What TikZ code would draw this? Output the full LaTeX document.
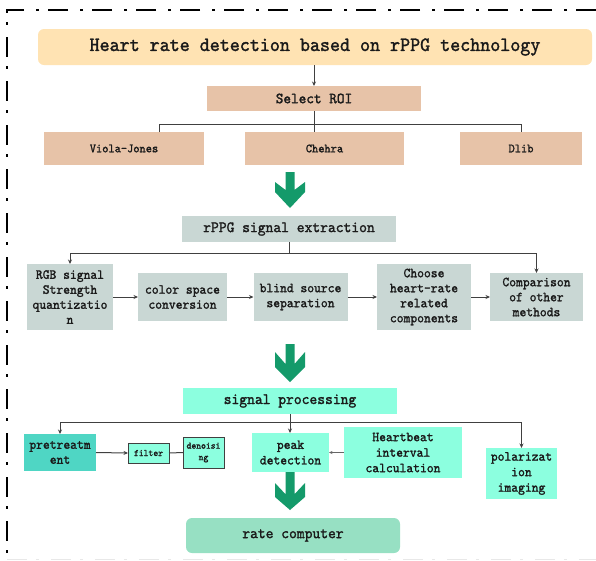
\documentclass[tikz,border=0pt]{standalone}
\usepackage{fontspec}
\newfontfamily\monof{lmmono10-regular.otf}[FakeBold=1.5,FakeStretch=0.94]
\usetikzlibrary{arrows.meta,calc}
\definecolor{titlefill}{HTML}{FFE3B3}
\definecolor{roifill}{HTML}{E7C3A8}
\definecolor{grayfill}{HTML}{C9D7D4}
\definecolor{aquafill}{HTML}{8CFFDF}
\definecolor{tealfill}{HTML}{4FD6C4}
\definecolor{ratefill}{HTML}{97E0C3}
\definecolor{arrowgreen}{HTML}{149A6A}
\definecolor{linec}{HTML}{404040}
\definecolor{textc}{HTML}{1A1A1A}
\newcommand\fsz[2]{\monof\fontsize{#1}{#2}\selectfont}
\newcommand\greenarrow[5]{%
  \fill[arrowgreen] (#1-4.5,#2) -- (#1+4.5,#2) -- (#1+4.5,{#3+0.8*(#4-#3)}) -- (#1+15,#3) -- (#1+15,#4) -- (#1,#5) -- (#1-15,#4) -- (#1-15,#3) -- (#1-4.5,{#3+0.8*(#4-#3)}) -- cycle;}
\begin{document}
\begin{tikzpicture}[x=1pt,y=-1pt,
  box/.style={inner sep=0pt, outer sep=0pt, align=center, text=textc},
  ln/.style={draw=linec, line width=1pt},
  arr/.style={ln, -{Stealth[length=4.5pt,width=4pt]}},
  thinarr/.style={draw=linec!80, line width=0.5pt, -{Stealth[length=3.5pt,width=3pt]}},
  border/.style={line width=1.2pt, dash pattern=on 20pt off 9pt on 3pt off 12pt},
]
\useasboundingbox (0,0) rectangle (596,560);
% frame
\draw[border] (596,10) -- (7,10) -- (7,560);
\draw[border, draw=gray!18, line width=0.8pt] (7,559) -- (596,559);

% level 1
\node[box, fill=titlefill, rounded corners=6pt, minimum width=554pt, minimum height=36pt, font={\fsz{20.3}{22}}] (title) at (315,47) {Heart rate detection based on rPPG technology};
\node[box, fill=roifill, minimum width=214pt, minimum height=25pt, font={\fsz{15.5}{18}}] (roi) at (314,98.5) {Select ROI};
\node[box, fill=roifill, minimum width=160pt, minimum height=33pt, font={\fsz{12.6}{15}}] (viola) at (124,148.5) {Viola-Jones};
\node[box, fill=roifill, minimum width=159pt, minimum height=33pt, font={\fsz{12.6}{15}}] (chehra) at (324.5,148.5) {Chehra};
\node[box, fill=roifill, minimum width=122pt, minimum height=33pt, font={\fsz{12.6}{15}}] (dlib) at (521,148.5) {Dlib};

\draw[arr] (roi.north |- title.south) -- (roi.north);
\draw[ln] (roi.south) -- (chehra.north -| roi.south);
\coordinate (b1) at (314,124);
\coordinate (b1l) at (159,124);
\draw[ln] (viola.north -| b1l) -- (b1l) -- (dlib.north |- b1) -- (dlib.north);

\greenarrow{290}{172}{182}{192}{208}

% level 2
\node[box, fill=grayfill, minimum width=214pt, minimum height=26pt, font={\fsz{15.8}{18}}] (rppg) at (289,229) {rPPG signal extraction};
\node[box, fill=grayfill, minimum width=86pt, minimum height=66pt, font={\fsz{13.8}{15}}] (rgb) at (70,297) {RGB signal\\Strength\\quantizatio\\n};
\node[box, fill=grayfill, minimum width=89pt, minimum height=48pt, font={\fsz{13.8}{15}}] (cs) at (182.5,297) {color space\\conversion};
\node[box, fill=grayfill, minimum width=94pt, minimum height=48pt, font={\fsz{13.8}{15}}] (bss) at (300.5,297) {blind source\\separation};
\node[box, fill=grayfill, minimum width=94pt, minimum height=66pt, font={\fsz{13.8}{15}}] (choose) at (424,297) {Choose\\heart-rate\\related\\components};
\node[box, fill=grayfill, minimum width=93pt, minimum height=48pt, font={\fsz{13.8}{15}}] (comp) at (536.5,297) {Comparison\\of other\\methods};

\draw[ln] (rppg.south) -- ++(0,11) coordinate (b2);
\draw[arr] (b2) -| (rgb.north);
\draw[arr] (b2) -| (comp.north);
\draw[arr] (rgb.east) -- (cs.west);
\draw[arr] (cs.east) -- (bss.west);
\draw[arr] (bss.east) -- (choose.west);
\draw[arr] (choose.east) -- (comp.west);

\greenarrow{290}{344}{352}{367}{382}

% level 3
\node[box, fill=aquafill, minimum width=214pt, minimum height=26pt, font={\fsz{15.8}{18}}] (sp) at (290,401) {signal processing};
\node[box, fill=tealfill, minimum width=72pt, minimum height=37pt, font={\fsz{13.8}{15}}] (pre) at (60,452.5) {pretreatm\\ent};
\node[box, fill=aquafill, draw=linec, line width=1pt, minimum width=41pt, minimum height=20pt, font={\fsz{9.8}{11.5}}] (filter) at (148.5,453) {filter};
\node[box, fill=aquafill, draw=linec, line width=1pt, minimum width=41pt, minimum height=31pt, font={\fsz{9.8}{11.5}}] (den) at (203.5,452.5) {denoisi\\ng};
\node[box, fill=aquafill, minimum width=77pt, minimum height=39pt, font={\fsz{13.8}{15.5}}] (peak) at (290.5,452.5) {peak\\detection};
\node[box, fill=aquafill, minimum width=118pt, minimum height=51pt, font={\fsz{13.8}{15.5}}] (heart) at (403,452.5) {Heartbeat\\interval\\calculation};
\node[box, fill=aquafill, minimum width=71pt, minimum height=51pt, font={\fsz{13.8}{15.5}}] (pol) at (521.5,473.5) {polarizat\\ion\\imaging};

\draw[ln] (sp.south) -- ++(0,8) coordinate (b3);
\draw[arr] (b3) -| (pre.north);
\draw[arr] (b3) -- (b3 |- peak.north);
\draw[arr] (b3) -| (pol.north);
\draw[arr] (pre.east) -- (filter.west);
\draw[ln] (filter.east) -- (den.west);
\draw[thinarr] (heart.west) -- (peak.east);

\greenarrow{290}{472}{483}{497}{510}

\node[box, fill=ratefill, rounded corners=6pt, minimum width=214pt, minimum height=35pt, font={\fsz{15.8}{18}}] (rate) at (293,535.5) {rate computer};
\end{tikzpicture}
\end{document}
